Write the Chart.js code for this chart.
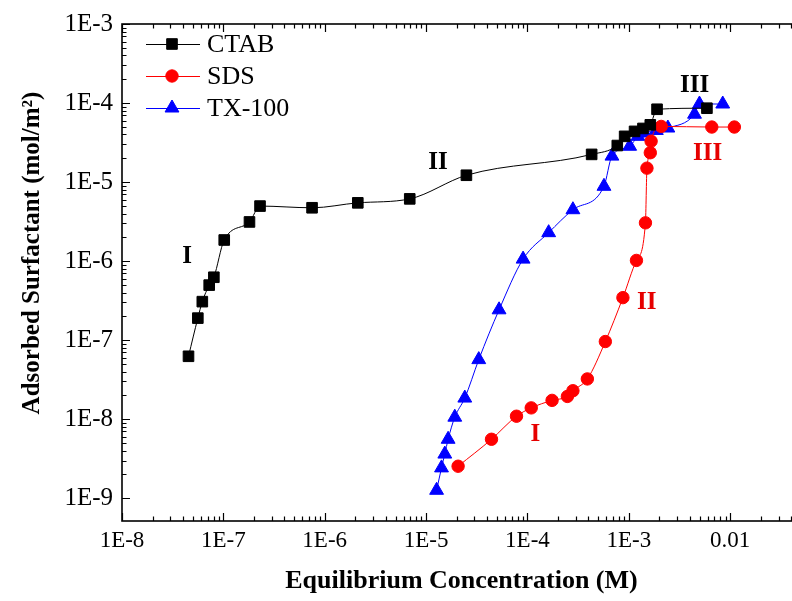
<!DOCTYPE html>
<html>
<head>
<meta charset="utf-8">
<script src="https://cdn.jsdelivr.net/npm/chart.js@4/dist/chart.umd.min.js"></script>
<style>
  html, body { margin: 0; padding: 0; background: #fff; overflow: hidden; }
  #wrap { width: 810px; height: 601px; }
</style>
</head>
<body>
<div id="wrap"><canvas id="chart" width="810" height="601"></canvas></div>
<script>
// Equilibrium concentration (M) and adsorbed amount (mol/m^2) for each surfactant
const ctabConc = [4.53e-8, 5.6e-8, 6.2e-8, 7.25e-8, 8.06e-8, 1.02e-7, 1.81e-7, 2.3e-7,
                  7.5e-7, 2.12e-6, 6.9e-6, 2.5e-5, 4.3e-4, 7.7e-4, 9.1e-4, 1.14e-3,
                  1.38e-3, 1.63e-3, 1.9e-3, 5.9e-3];
const ctabAds  = [6.25e-8, 1.9e-7, 3.07e-7, 4.97e-7, 6.25e-7, 1.85e-6, 3.13e-6, 4.97e-6,
                  4.73e-6, 5.46e-6, 6.13e-6, 1.22e-5, 2.24e-5, 2.9e-5, 3.79e-5, 4.38e-5,
                  4.77e-5, 5.3e-5, 8.34e-5, 8.6e-5];

const sdsConc = [2.07e-5, 4.42e-5, 7.8e-5, 1.09e-4, 1.75e-4, 2.48e-4, 2.81e-4, 3.9e-4,
                 5.87e-4, 8.75e-4, 1.19e-3, 1.46e-3, 1.51e-3, 1.63e-3, 1.66e-3, 2.09e-3,
                 6.59e-3, 1.1e-2];
const sdsAds  = [2.54e-9, 5.57e-9, 1.09e-8, 1.39e-8, 1.73e-8, 1.94e-8, 2.29e-8, 3.23e-8,
                 9.6e-8, 3.45e-7, 1.02e-6, 3.05e-6, 1.5e-5, 2.35e-5, 3.29e-5, 5.06e-5,
                 4.97e-5, 4.97e-5];

const txConc = [1.27e-5, 1.42e-5, 1.53e-5, 1.65e-5, 1.92e-5, 2.41e-5, 3.31e-5, 5.25e-5,
                9.06e-5, 1.62e-4, 2.81e-4, 5.69e-4, 6.82e-4, 1.02e-3, 1.23e-3, 1.43e-3,
                1.87e-3, 2.43e-3, 4.45e-3, 4.98e-3, 8.45e-3];
const txAds  = [1.26e-9, 2.42e-9, 3.62e-9, 5.57e-9, 1.06e-8, 1.85e-8, 5.67e-8, 2.42e-7,
                1.06e-6, 2.29e-6, 4.47e-6, 8.84e-6, 2.13e-5, 2.84e-5, 3.79e-5, 4.18e-5,
                4.5e-5, 4.83e-5, 7.22e-5, 9.72e-5, 9.72e-5];

// Axis decades and their labels
const xMajorTicks  = [1e-8, 1e-7, 1e-6, 1e-5, 1e-4, 1e-3, 1e-2];
const xTickLabels  = ['1E-8', '1E-7', '1E-6', '1E-5', '1E-4', '1E-3', '0.01'];
const yMajorTicks  = [1e-9, 1e-8, 1e-7, 1e-6, 1e-5, 1e-4, 1e-3];
const yTickLabels  = ['1E-9', '1E-8', '1E-7', '1E-6', '1E-5', '1E-4', '1E-3'];
const minorFactors = [2, 3, 4, 5, 6, 7, 8, 9];

// Adsorption region labels: [text, concentration, adsorbed amount, colour]
const regionLabels = [
  ['I',   4.4e-8,  1.15e-6, '#000'],
  ['II',  1.31e-5, 1.78e-5, '#000'],
  ['III', 4.45e-3, 1.68e-4, '#000'],
  ['I',   1.2e-4,  6.4e-9,  '#e60000'],
  ['II',  1.5e-3,  2.99e-7, '#e60000'],
  ['III', 5.98e-3, 2.3e-5,  '#e60000']
];

const X_MIN = 1e-8, X_MAX = 0.05, Y_MIN = 5.15e-10, Y_MAX = 1e-3;
const SERIF = '"Liberation Serif", "Times New Roman", serif';

function tickList(majors, lo, hi) {
  const out = [];
  majors.forEach(m => {
    out.push({ value: m, major: true });
    minorFactors.forEach(f => out.push({ value: m * f, major: false }));
  });
  return out.filter(t => t.value >= lo * 0.999 && t.value <= hi * 1.001);
}
function labelFor(v, majors, labels) {
  const i = majors.findIndex(m => Math.abs(m - v) / m < 1e-6);
  return i >= 0 ? labels[i] : '';
}
function toPoints(xs, ys) { return xs.map((x, i) => ({ x: x, y: ys[i] })); }

// Box frame with inward ticks on every side
const framePlugin = {
  id: 'frame',
  afterDatasetsDraw(chart) {
    const { ctx, chartArea: a, scales: { x, y } } = chart;
    ctx.save();
    ctx.strokeStyle = '#000';
    ctx.lineWidth = 1.6;
    ctx.strokeRect(a.left, a.top, a.right - a.left, a.bottom - a.top);
    ctx.lineWidth = 1.2;
    ctx.beginPath();
    x.ticks.forEach(t => {
      const px = Math.round(x.getPixelForValue(t.value)) + 0.5;
      const len = t.major ? 8 : 4.5;
      ctx.moveTo(px, a.bottom); ctx.lineTo(px, a.bottom - len);
      ctx.moveTo(px, a.top); ctx.lineTo(px, a.top + len);
    });
    y.ticks.forEach(t => {
      const py = Math.round(y.getPixelForValue(t.value)) + 0.5;
      const len = t.major ? 8 : 4.5;
      ctx.moveTo(a.left, py); ctx.lineTo(a.left + len, py);
      ctx.moveTo(a.right, py); ctx.lineTo(a.right - len, py);
    });
    ctx.stroke();
    ctx.restore();
  }
};

// Region labels, legend and vertical axis title
const textPlugin = {
  id: 'texts',
  afterDraw(chart) {
    const { ctx, scales: { x, y } } = chart;
    ctx.save();
    ctx.textAlign = 'center';
    ctx.textBaseline = 'middle';
    ctx.font = 'bold 25px ' + SERIF;
    regionLabels.forEach(([txt, cx, cy, col]) => {
      ctx.fillStyle = col;
      ctx.fillText(txt, x.getPixelForValue(cx), y.getPixelForValue(cy));
    });

    // legend
    const rows = [44, 76, 108];
    chart.data.datasets.forEach((ds, i) => {
      const yy = rows[i];
      ctx.strokeStyle = ds.borderColor;
      ctx.lineWidth = 1;
      ctx.beginPath();
      ctx.moveTo(146, yy + 0.5); ctx.lineTo(200, yy + 0.5);
      ctx.stroke();
      ctx.fillStyle = ds.pointBackgroundColor;
      ctx.strokeStyle = ds.pointBorderColor;
      Chart.helpers.drawPoint(ctx, {
        pointStyle: ds.pointStyle, radius: ds.pointRadius, borderWidth: 1, rotation: 0
      }, 172, yy);
      ctx.fillStyle = '#000';
      ctx.textAlign = 'left';
      ctx.font = '26px ' + SERIF;
      ctx.fillText(ds.label, 207, yy + 1);
    });

    // y axis title
    ctx.translate(33, 253);
    ctx.rotate(-Math.PI / 2);
    ctx.textAlign = 'center';
    ctx.fillStyle = '#000';
    ctx.font = 'bold 25px ' + SERIF;
    ctx.fillText('Adsorbed Surfactant (mol/m\u00B2)', 0, 0);
    ctx.restore();
  }
};

const common = { showLine: true, borderWidth: 1, cubicInterpolationMode: 'monotone', pointBorderWidth: 1 };

new Chart(document.getElementById('chart'), {
  type: 'scatter',
  data: {
    datasets: [
      Object.assign({ label: 'CTAB', data: toPoints(ctabConc, ctabAds),
        borderColor: '#000', pointBackgroundColor: '#000', pointBorderColor: '#000',
        pointStyle: 'rect', pointRadius: 7.5 }, common),
      Object.assign({ label: 'SDS', data: toPoints(sdsConc, sdsAds),
        borderColor: '#f00', pointBackgroundColor: '#f00', pointBorderColor: '#f00',
        pointStyle: 'circle', pointRadius: 6.2 }, common),
      Object.assign({ label: 'TX-100', data: toPoints(txConc, txAds),
        borderColor: '#00f', pointBackgroundColor: '#00f', pointBorderColor: '#00f',
        pointStyle: 'triangle', pointRadius: 8 }, common)
    ]
  },
  options: {
    responsive: false,
    animation: false,
    layout: { padding: { top: 18, right: 8, left: 0, bottom: 0 } },
    plugins: { legend: { display: false }, tooltip: { enabled: false } },
    scales: {
      x: {
        type: 'logarithmic', min: X_MIN, max: X_MAX,
        grid: { display: false, drawTicks: false },
        border: { display: false },
        afterBuildTicks: s => { s.ticks = tickList(xMajorTicks, X_MIN, X_MAX); },
        afterFit: s => { s.height = 80; },
        ticks: {
          autoSkip: false, maxRotation: 0, padding: 6, color: '#000',
          font: { family: SERIF, size: 23 },
          callback: v => labelFor(v, xMajorTicks, xTickLabels)
        },
        title: {
          display: true, text: 'Equilibrium Concentration (M)', color: '#000',
          font: { family: SERIF, size: 26, weight: 'bold' }, padding: { top: 0, bottom: 4 }
        }
      },
      y: {
        type: 'logarithmic', min: Y_MIN, max: Y_MAX,
        grid: { display: false, drawTicks: false },
        border: { display: false },
        afterBuildTicks: s => { s.ticks = tickList(yMajorTicks, Y_MIN, Y_MAX); },
        afterFit: s => { s.width = 122; },
        ticks: {
          autoSkip: false, padding: 9, color: '#000',
          font: { family: SERIF, size: 25 },
          callback: v => labelFor(v, yMajorTicks, yTickLabels)
        }
      }
    }
  },
  plugins: [framePlugin, textPlugin]
});
</script>
</body>
</html>
